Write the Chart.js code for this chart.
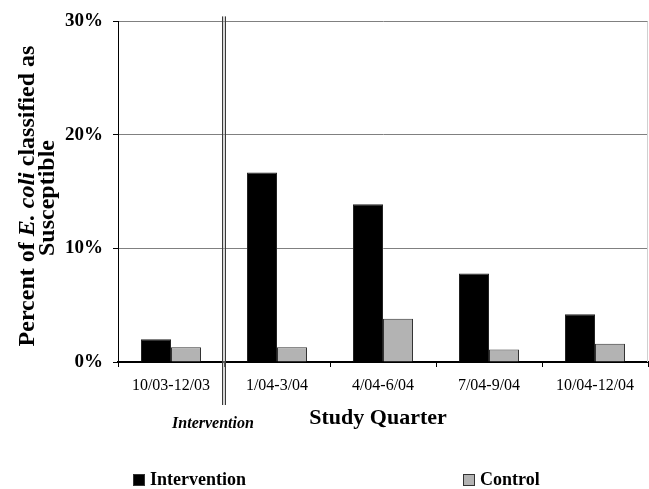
<!DOCTYPE html>
<html>
<head>
<meta charset="utf-8">
<script src="https://cdn.jsdelivr.net/npm/chart.js@4/dist/chart.umd.min.js"></script>
<style>
html,body{margin:0;padding:0;background:#fff;}
#wrap{width:649px;height:489px;}
</style>
</head>
<body>
<div id="wrap"><canvas id="c" width="649" height="489"></canvas></div>
<script>
const categories = ['10/03-12/03', '1/04-3/04', '4/04-6/04', '7/04-9/04', '10/04-12/04'];
const interventionValues = [2.0, 16.7, 13.9, 7.8, 4.2];
const controlValues = [1.3, 1.3, 3.8, 1.1, 1.6];
const seriesNames = ['Intervention', 'Control'];
const yTicks = [0, 10, 20, 30];
const xTitle = 'Study Quarter';
const markerLabel = 'Intervention';

const SERIF = '"Liberation Serif", "Times New Roman", serif';

const overlay = {
  id: 'overlay',
  afterDraw(chart) {
    const ctx = chart.ctx;
    const xs = chart.scales.x;
    const area = chart.chartArea;
    ctx.save();
    // faint right border of plot
    ctx.strokeStyle = '#d0d0d0';
    ctx.lineWidth = 1;
    ctx.beginPath();
    ctx.moveTo(area.right - 0.5, area.top);
    ctx.lineTo(area.right - 0.5, area.bottom);
    ctx.stroke();

    // intervention double line
    const bx = Math.round(xs.getPixelForValue(0.5));
    ctx.strokeStyle = '#3a3a3a';
    ctx.lineWidth = 1;
    [bx - 1.5, bx + 1.5].forEach(x => {
      ctx.beginPath();
      ctx.moveTo(x, area.top - 5);
      ctx.lineTo(x, area.bottom + 43);
      ctx.stroke();
    });
    ctx.strokeStyle = '#b0b0b0';
    ctx.beginPath();
    ctx.moveTo(bx, area.top - 5);
    ctx.lineTo(bx, area.bottom + 43);
    ctx.stroke();

    ctx.fillStyle = '#000';
    ctx.textBaseline = 'middle';
    // marker label
    ctx.font = 'italic bold 16px ' + SERIF;
    ctx.textAlign = 'center';
    ctx.fillText(markerLabel, bx - 11, 424);
    // x title
    ctx.font = 'bold 22px ' + SERIF;
    ctx.fillText(xTitle, (area.left + area.right) / 2 - 5, 418);

    // y title (rotated, two lines, E. coli italic)
    const parts = [
      {t: 'Percent of ', f: 'bold 24px ' + SERIF},
      {t: 'E. coli', f: 'italic bold 24px ' + SERIF},
      {t: ' classified as', f: 'bold 24px ' + SERIF}
    ];
    let total = 0;
    parts.forEach(p => { ctx.font = p.f; p.w = ctx.measureText(p.t).width; total += p.w; });
    ctx.save();
    ctx.translate(28, 196);
    ctx.rotate(-Math.PI / 2);
    ctx.textAlign = 'left';
    let x = -total / 2;
    parts.forEach(p => { ctx.font = p.f; ctx.fillText(p.t, x, 0); x += p.w; });
    ctx.restore();
    ctx.save();
    ctx.translate(48, 198);
    ctx.rotate(-Math.PI / 2);
    ctx.textAlign = 'center';
    ctx.font = 'bold 24px ' + SERIF;
    ctx.fillText('Susceptible', 0, 0);
    ctx.restore();

    // legend
    const legendPos = [133, 463];
    chart.data.datasets.forEach((ds, i) => {
      const lx = legendPos[i];
      ctx.fillStyle = ds.backgroundColor;
      ctx.fillRect(lx, 474, 12, 12);
      ctx.strokeStyle = '#333';
      ctx.lineWidth = 1;
      ctx.strokeRect(lx + 0.5, 474.5, 11, 11);
      ctx.fillStyle = '#000';
      ctx.font = 'bold 18px ' + SERIF;
      ctx.textAlign = 'left';
      ctx.fillText(ds.label, lx + 17, 480);
    });
    ctx.restore();
  }
};

new Chart(document.getElementById('c'), {
  type: 'bar',
  data: {
    labels: categories,
    datasets: [
      {label: seriesNames[0], data: interventionValues, backgroundColor: '#000000', borderColor: '#222', borderWidth: 1},
      {label: seriesNames[1], data: controlValues, backgroundColor: '#b3b3b3', borderColor: '#333', borderWidth: 1}
    ]
  },
  options: {
    responsive: false,
    animation: false,
    devicePixelRatio: 1,
    layout: {padding: {left: 0, top: 18, right: 1, bottom: 0}},
    plugins: {legend: {display: false}, tooltip: {enabled: false}},
    datasets: {bar: {categoryPercentage: 0.566, barPercentage: 1.0}},
    scales: {
      x: {
        offset: true,
        grid: {display: true, drawOnChartArea: false, drawTicks: true, tickLength: 5, color: '#000', tickColor: '#000', offset: true},
        border: {display: true, color: '#000', width: 2},
        ticks: {color: '#000', font: {family: SERIF, size: 16}, padding: 9, maxRotation: 0},
        afterFit(s) { s.height = 127; }
      },
      y: {
        min: 0, max: 30,
        afterBuildTicks(s) { s.ticks = yTicks.map(v => ({value: v})); },
        grid: {color: '#808080', tickColor: '#000', tickLength: 5, lineWidth: 1},
        border: {display: true, color: '#000', width: 1},
        ticks: {color: '#000', font: {family: SERIF, size: 19, weight: 'bold'}, padding: 10, callback: v => v + '%'},
        afterFit(s) { s.width = 118; }
      }
    }
  },
  plugins: [overlay]
});
</script>
</body>
</html>
